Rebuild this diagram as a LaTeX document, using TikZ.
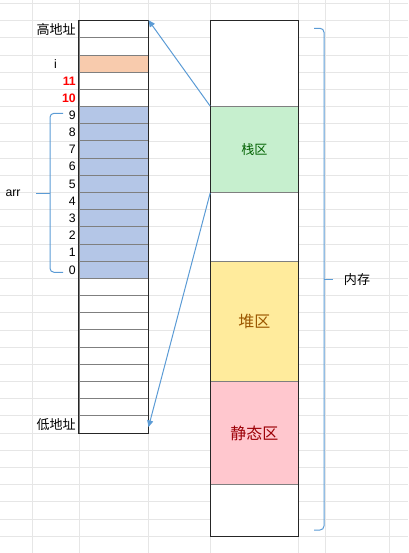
\documentclass[tikz,border=0pt]{standalone}
\usepackage{fontspec}
\setmainfont{Liberation Sans}
\newfontfamily\cjk{Noto Sans CJK SC}
\usetikzlibrary{arrows.meta}
\definecolor{gridgray}{HTML}{E6E6E6}
\definecolor{cellline}{HTML}{7F7F7F}
\definecolor{arrowblue}{HTML}{5B9BD5}
\definecolor{cellorange}{HTML}{F8CBAD}
\definecolor{cellblue}{HTML}{B4C6E7}
\definecolor{stackgreen}{HTML}{C6EFCE}
\definecolor{stacktext}{HTML}{006100}
\definecolor{heapyellow}{HTML}{FFEB9C}
\definecolor{heaptext}{HTML}{9C5700}
\definecolor{staticpink}{HTML}{FFC7CE}
\definecolor{statictext}{HTML}{9C0006}
\tikzset{mem cell/.style={draw=cellline, fill=white, line width=0.75pt, minimum width=51.75pt, minimum height=12.885pt, inner sep=0pt},
         mem block/.style={draw=cellline, fill=white, line width=0.75pt, minimum width=65.5pt, inner sep=0pt, font=\cjk\fontsize{12}{14}\selectfont},
         addr label/.style={anchor=east, inner sep=0pt, font=\fontsize{9.2}{11}\selectfont},
         cjk label/.style={inner sep=0pt, font=\cjk\fontsize{9.8}{11}\selectfont},
         map arrow/.style={draw=arrowblue, line width=0.75pt, -{Triangle[length=5pt,width=4.5pt]}},
         brace line/.style={draw=arrowblue, line width=0.75pt, rounded corners=3pt},}

\begin{document}
\begin{tikzpicture}[x=0.75pt, y=-0.75pt]
\useasboundingbox (0,0) rectangle (408,553);
% sheet grid
\foreach \gx in {32,79,148,210.7,298,325,389} \draw [gridgray, line width=0.6pt] (\gx,0) -- (\gx,553);
\foreach \k in {0,...,32} {\pgfmathsetmacro\gy{3.52+17.18*\k} \draw [gridgray, line width=0.6pt] (0,\gy) -- (408,\gy);}
% stack cells
\node [mem cell] (c0) at (113.5, 29.29) {};
\node [mem cell] (c1) at (113.5, 46.47) {};
\node [mem cell, fill=cellorange] (c2) at (113.5, 63.65) {};
\node [mem cell] (c3) at (113.5, 80.83) {};
\node [mem cell] (c4) at (113.5, 98.01) {};
\node [mem cell, fill=cellblue] (c5) at (113.5,115.19) {};
\node [mem cell, fill=cellblue] (c6) at (113.5,132.37) {};
\node [mem cell, fill=cellblue] (c7) at (113.5,149.55) {};
\node [mem cell, fill=cellblue] (c8) at (113.5,166.73) {};
\node [mem cell, fill=cellblue] (c9) at (113.5,183.91) {};
\node [mem cell, fill=cellblue] (c10) at (113.5,201.09) {};
\node [mem cell, fill=cellblue] (c11) at (113.5,218.27) {};
\node [mem cell, fill=cellblue] (c12) at (113.5,235.45) {};
\node [mem cell, fill=cellblue] (c13) at (113.5,252.63) {};
\node [mem cell, fill=cellblue] (c14) at (113.5,269.81) {};
\node [mem cell] (c15) at (113.5,286.99) {};
\node [mem cell] (c16) at (113.5,304.17) {};
\node [mem cell] (c17) at (113.5,321.35) {};
\node [mem cell] (c18) at (113.5,338.53) {};
\node [mem cell] (c19) at (113.5,355.71) {};
\node [mem cell] (c20) at (113.5,372.89) {};
\node [mem cell] (c21) at (113.5,390.07) {};
\node [mem cell] (c22) at (113.5,407.25) {};
\node [mem cell] (c23) at (113.5,424.43) {};
\draw [black!85, line width=0.9pt] (c0.north west) rectangle (c23.south east);
% addresses
\node [cjk label, anchor=east] (high) at (76, 29.29) {高地址};
\node [addr label, anchor=center] (var i) at (55.5, 63.65) {i};
\node [addr label, text=red, font=\bfseries\fontsize{9.2}{11}\selectfont] (a11) at (76, 80.83) {11};
\node [addr label, text=red, font=\bfseries\fontsize{9.2}{11}\selectfont] (a10) at (76, 98.01) {10};
\node [addr label] (a9) at (76,115.19) {9};
\node [addr label] (a8) at (76,132.37) {8};
\node [addr label] (a7) at (76,149.55) {7};
\node [addr label] (a6) at (76,166.73) {6};
\node [addr label] (a5) at (76,183.91) {5};
\node [addr label] (a4) at (76,201.09) {4};
\node [addr label] (a3) at (76,218.27) {3};
\node [addr label] (a2) at (76,235.45) {2};
\node [addr label] (a1) at (76,252.63) {1};
\node [addr label] (a0) at (76,269.81) {0};
\node [cjk label, anchor=east] (low) at (76,424.43) {低地址};
% arr brace
\draw [brace line] (63,113.3) -- (50,113.3) -- (50,272.3) -- (63,272.3);
\draw [brace line] (50,193.3) -- (36,193.3);
\node [addr label, anchor=center] (arr) at (13,193.3) {arr};
% memory blocks
\node [mem block, minimum height=64.43pt] (top) at (254.35, 63.65) {};
\node [mem block, minimum height=64.43pt, fill=stackgreen, text=stacktext, font=\cjk\fontsize{9.8}{11}\selectfont] (stack) at (254.35,149.55) {栈区};
\node [mem block, minimum height=51.54pt] (gap) at (254.35,226.85) {};
\node [mem block, minimum height=90.2pt, fill=heapyellow, text=heaptext] (heap) at (254.35,321.35) {堆区};
\node [mem block, minimum height=77.31pt, fill=staticpink, text=statictext] (static) at (254.35,433.05) {静态区};
\node [mem block, minimum height=38.66pt] (bottom) at (254.35,510.35) {};
\draw [black!85, line width=0.9pt] (top.north west) rectangle (bottom.south east);
% memory brace
\draw [brace line] (314,28.3) -- (324,28.3) -- (324,530) -- (314,530);
\draw [brace line] (324,279.3) -- (333,279.3);
\node [cjk label] (memory) at (357,279.3) {内存};
% stack mapping
\draw [map arrow] (stack.north west) -- (c0.north east);
\draw [map arrow] (stack.south west) -- ([yshift=-2pt]c23.east);
\end{tikzpicture}
\end{document}
